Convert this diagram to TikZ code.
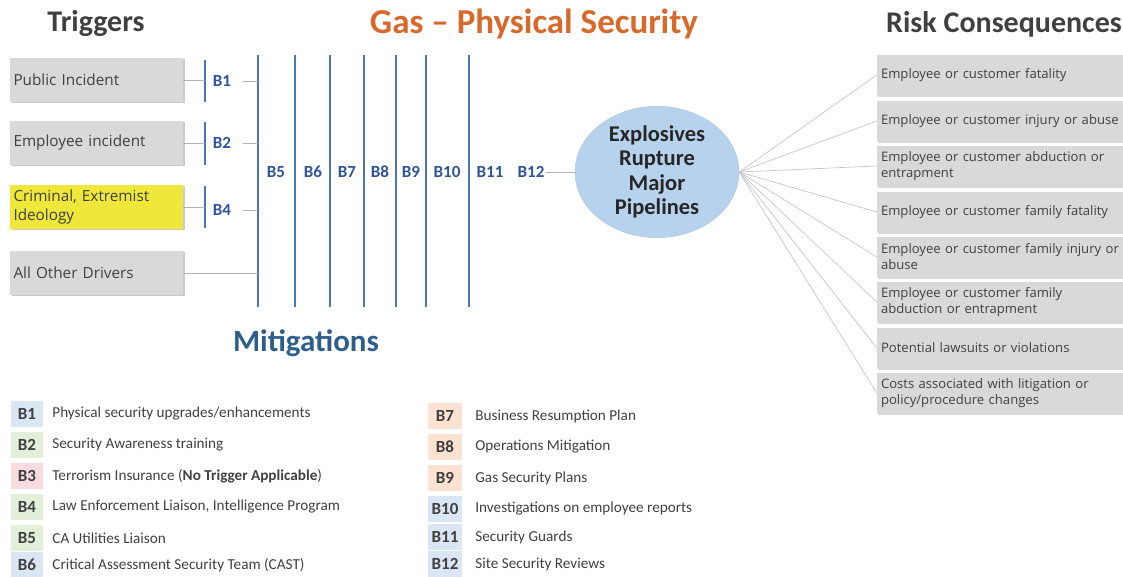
\documentclass[tikz,border=0pt]{standalone}
\usepackage{fontspec}
\setmainfont{Carlito}
\newfontfamily\boxfont{Open Sans}
\usepackage{tikz}
\usetikzlibrary{shapes.geometric, shadows, positioning}

\definecolor{boxgray}{HTML}{D9D9D9}
\definecolor{trigyellow}{HTML}{EFE83A}
\definecolor{titlegray}{HTML}{404040}
\definecolor{titleorange}{HTML}{D8692C}
\definecolor{barblue}{HTML}{4A74C0}
\definecolor{labblue}{HTML}{2F5597}
\definecolor{mitblue}{HTML}{2E5E8C}
\definecolor{ellblue}{HTML}{B7D2EC}
\definecolor{legblue}{HTML}{DAE6F3}
\definecolor{leggreen}{HTML}{E2EFD9}
\definecolor{legpink}{HTML}{F8DCDF}
\definecolor{legpeach}{HTML}{FBE2D1}

\tikzset{
    trigbox/.style={fill=boxgray, minimum width=173pt, minimum height=44pt,
        text width=165pt, inner xsep=4pt, align=left, text=titlegray,
        font=\boxfont\fontsize{15.3}{18.5}\selectfont,
        drop shadow={shadow xshift=2pt, shadow yshift=-1pt, fill=gray!70, opacity=0.6}},
    conbox/.style={fill=boxgray, minimum width=250pt, minimum height=40pt,
        text width=242pt, inner xsep=4pt, align=left, text=titlegray,
        font=\boxfont\fontsize{13.1}{16}\selectfont,
        drop shadow={shadow xshift=1pt, shadow yshift=-1.5pt, fill=gray!60, opacity=0.5}},
    barline/.style={draw=barblue, line width=1.4pt},
    tick/.style={draw=gray!60, line width=0.8pt},
    fanline/.style={draw=gray!45, line width=0.7pt},
    blabel/.style={text=labblue, font=\bfseries\fontsize{17}{19}\selectfont, inner sep=1pt},
    legbadge/.style={minimum width=32pt, minimum height=26pt, inner sep=0pt,
        text=titlegray, font=\bfseries\fontsize{17}{19}\selectfont},
    legtext/.style={text=titlegray, font=\fontsize{15.2}{17}\selectfont, inner sep=0pt}
}

\begin{document}
\begin{tikzpicture}[x=1pt, y=-1pt]
    \useasboundingbox (0,0) rectangle (1123,576);

    % Titles
    \node[text=titlegray, font=\bfseries\fontsize{30}{34}\selectfont] (trigtitle) at (96,24) {Triggers};
    \node[text=titleorange, font=\bfseries\fontsize{35}{38}\selectfont] (maintitle) at (534,24) {Gas \textendash{} Physical Security};
    \node[text=titlegray, font=\bfseries\fontsize{30}{34}\selectfont] (risktitle) at (1004,24) {Risk Consequences};

    % Triggers
    \node[trigbox] (pub) at (96,80) {Public Incident};
    \node[trigbox] (emp) at (96,143) {Employee incident};
    \node[trigbox, fill=trigyellow] (crim) at (96,207) {Criminal, Extremist\\Ideology};
    \node[trigbox] (other) at (96,273) {All Other Drivers};

    % Mitigation barriers B5 to B12
    \foreach \n/\x/\lx in {5/258/276, 6/295/313, 7/330/347, 8/364/380, 9/396/411, 10/426/447, 11/469/490, 12/511/531} {
        \ifnum\n<12
            \coordinate (m\n t) at (\x,55);
            \coordinate (m\n b) at (\x,307);
            \draw[barline] (m\n t) -- (m\n b);
        \fi
        \node[blabel] (l\n) at (\lx,172) {B\n};
    }

    % Trigger barriers
    \coordinate (b1t) at (205,60);
    \coordinate (b1b) at (205,102);
    \draw[barline] (b1t) -- (b1b);
    \draw[tick] (pub) -- (pub -| b1t);
    \node[blabel] (lb1) at (222,81) {B1};
    \draw[tick] ([xshift=11pt]lb1.east) -- (lb1 -| m5t);

    \coordinate (b2t) at (205,122);
    \coordinate (b2b) at (205,165);
    \draw[barline] (b2t) -- (b2b);
    \draw[tick] (emp) -- (emp -| b2t);
    \node[blabel] (lb2) at (222,143) {B2};
    \draw[tick] ([xshift=11pt]lb2.east) -- (lb2 -| m5t);

    \coordinate (b4t) at (205,186);
    \coordinate (b4b) at (205,228);
    \draw[barline] (b4t) -- (b4b);
    \draw[tick] (crim) -- (crim -| b4t);
    \node[blabel] (lb4) at (222,210) {B4};
    \draw[tick] ([xshift=11pt]lb4.east) -- (lb4 -| m5t);

    \draw[tick] (other) -- (other -| m5t);

    % Event
    \node[ellipse, fill=ellblue, draw=ellblue!80!gray, minimum width=164pt, minimum height=122pt,
        align=center, text=black!85, font=\bfseries\fontsize{22.5}{24.5}\selectfont, inner sep=0pt] (ell) at (657,172)
        {Explosives\\Rupture\\Major\\Pipelines};
    \draw[tick] (l12) -- (ell);

    % Risk consequences
    \node[conbox] (c1) at (1002,75) {Employee or customer fatality};
    \node[conbox] (c2) at (1002,121) {Employee or customer injury or abuse};
    \node[conbox] (c3) at (1002,166) {Employee or customer abduction or\\entrapment};
    \node[conbox] (c4) at (1002,212) {Employee or customer family fatality};
    \node[conbox] (c5) at (1002,257) {Employee or customer family injury or\\abuse};
    \node[conbox] (c6) at (1002,302) {Employee or customer family\\abduction or entrapment};
    \node[conbox] (c7) at (1002,348) {Potential lawsuits or violations};
    \node[conbox] (c8) at (1002,393) {Costs associated with litigation or\\policy/procedure changes};
    \foreach \i in {1,...,8}
        \draw[fanline] (ell.east) -- (c\i.west);

    \node[text=mitblue, font=\bfseries\fontsize{31}{34}\selectfont] (mittitle) at (306,343) {Mitigations};

    % Legend
    \foreach \n/\y/\col/\txt in {1/414/legblue/{Physical security upgrades/enhancements},
            2/445/leggreen/{Security Awareness training},
            3/476/legpink/{Terrorism Insurance (\textbf{No Trigger Applicable})},
            4/507/leggreen/{Law Enforcement Liaison, Intelligence Program},
            5/538/leggreen/{CA Utilities Liaison},
            6/565/legblue/{Critical Assessment Security Team (CAST)}} {
        \node[legbadge, fill=\col] (leg\n) at (27,\y) {B\n};
        \node[legtext, anchor=west, right=9pt of leg\n] (legt\n) {\txt};
    }
    \foreach \n/\y/\col/\txt in {7/416/legpeach/{Business Resumption Plan},
            8/447/legpeach/{Operations Mitigation},
            9/478/legpeach/{Gas Security Plans},
            10/509/legblue/{Investigations on employee reports},
            11/537/legblue/{Security Guards},
            12/564/legblue/{Site Security Reviews}} {
        \node[legbadge, minimum width=34pt, fill=\col] (leg\n) at (445,\y) {B\n};
        \node[legtext, anchor=west, right=13pt of leg\n] (legt\n) {\txt};
    }
\end{tikzpicture}
\end{document}
